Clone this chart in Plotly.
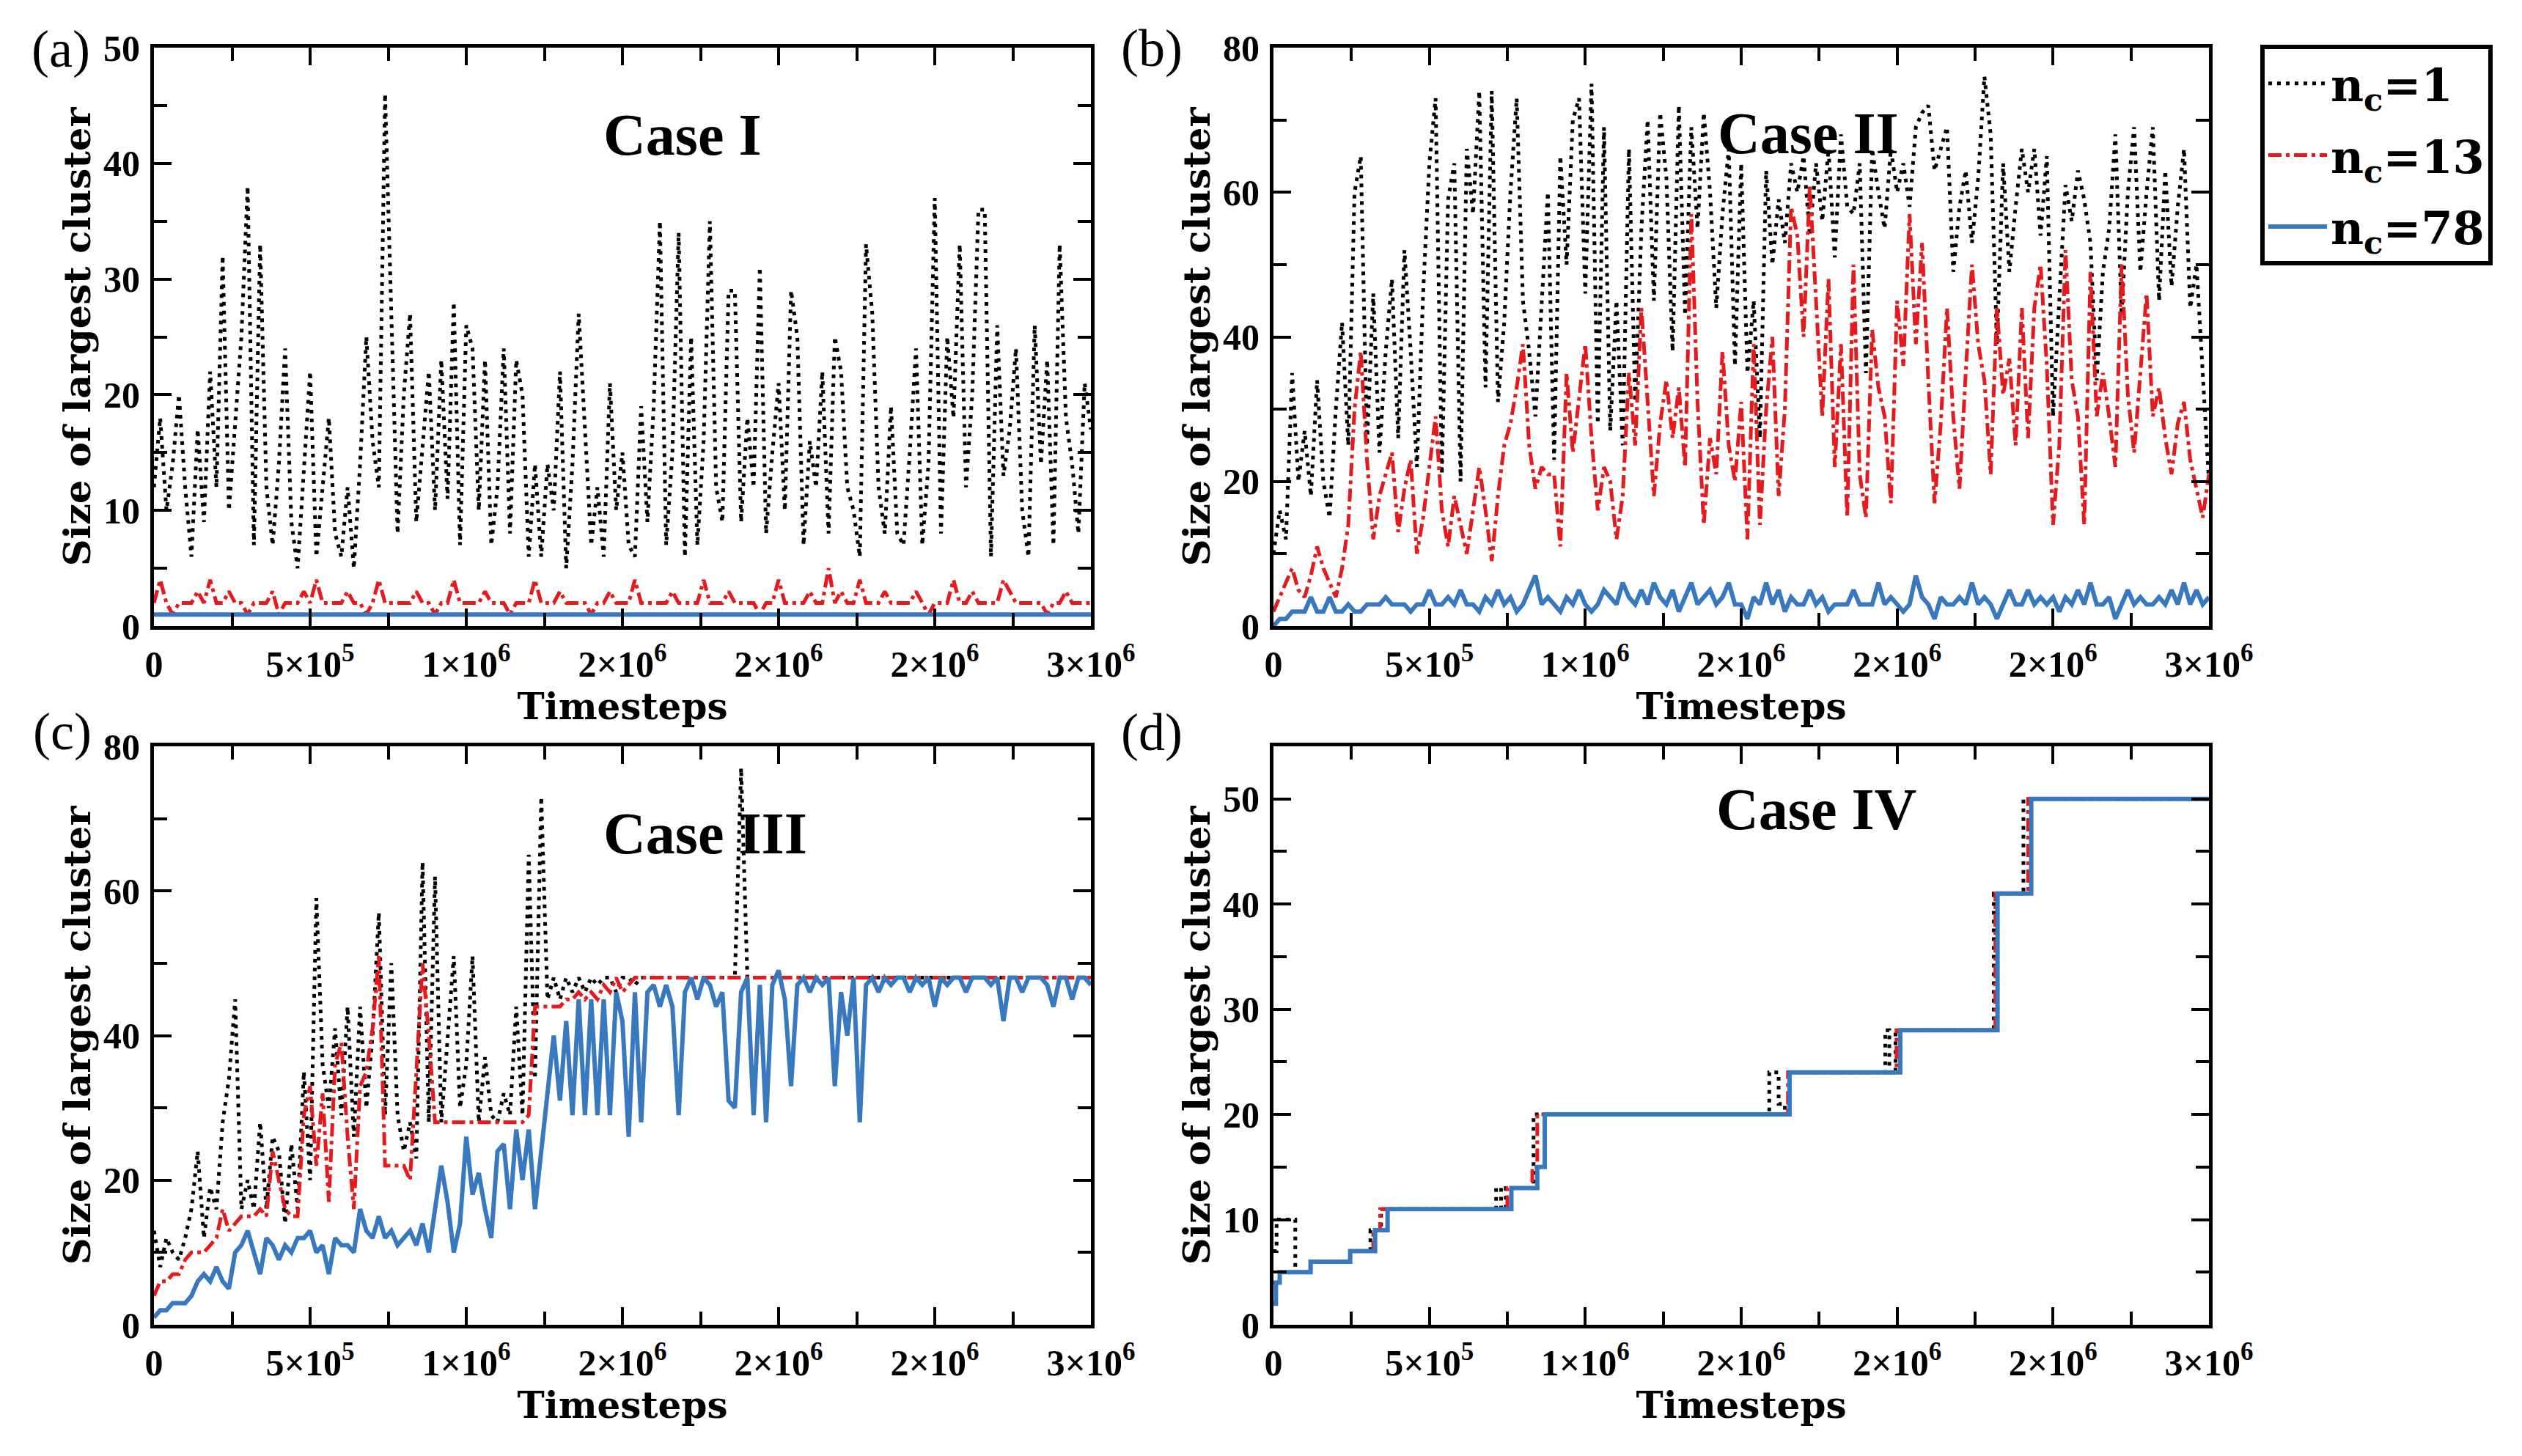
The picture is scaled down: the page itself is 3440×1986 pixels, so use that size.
import plotly.graph_objects as go

# ---------------- data ----------------
STEP = 20000  # sampling interval of the noisy series (timesteps)

# Panel (a) Case I
a_nc1 = [12,18,10,14,20,12,6,17,9,22,
         12,32,10,18,25,38,7,33,12,7,
         14,24,9,5,14,22,6,12,18,8,
         6,12,5,14,25,16,12,46,27,8,
         20,27,9,16,22,10,23,11,28,7,
         26,24,10,23,7,12,24,8,23,20,
         6,14,6,14,10,22,5,14,27,17,
         7,12,6,21,10,15,7,6,19,9,
         19,35,7,15,34,6,25,7,16,35,
         12,9,29,29,9,18,12,31,8,15,
         21,10,29,25,7,16,12,22,8,25,
         22,12,10,6,33,27,12,8,19,8,
         7,15,24,7,14,37,8,25,18,33,
         12,20,36,36,6,26,13,17,24,10,
         6,26,14,23,7,33,18,14,8,21,
         17]
a_nc13 = [2,4,2,1,2,2,2,3,2,4,
          2,2,3,2,2,1,2,2,2,3,
          1,2,2,2,3,2,4,2,2,2,
          2,3,2,2,1,2,4,2,2,2,
          2,2,3,2,2,1,2,2,4,2,
          2,2,2,3,2,2,2,1,2,2,
          2,4,2,2,2,3,2,2,2,2,
          1,2,2,3,2,2,2,4,2,2,
          2,2,2,3,2,2,2,2,4,2,
          2,2,3,2,2,2,2,1,2,2,
          4,2,2,2,2,3,2,2,5,2,
          3,2,2,4,2,2,2,3,2,2,
          2,2,3,2,1,2,2,2,4,2,
          2,3,2,2,2,2,4,3,2,2,
          2,2,2,1,2,2,3,2,2,2,
          2]
a_nc78_t = [0, 3000000]
a_nc78 = [1, 1]

# Panel (b) Case II
b_nc1 = [10,16,12,35,20,27,18,34,20,15,
         30,42,25,60,65,25,46,24,38,48,
         26,52,38,22,46,64,73,21,59,64,
         20,66,57,74,33,74,31,42,60,73,
         45,38,29,45,60,23,65,50,70,73,
         46,75,28,69,27,45,25,66,31,55,
         70,45,71,62,38,72,43,69,55,71,
         60,44,57,66,36,64,35,45,26,63,
         50,59,53,64,60,65,54,64,56,66,
         51,68,58,57,64,35,66,60,55,66,
         60,64,58,69,71,72,63,66,69,49,
         58,63,53,62,76,68,39,64,49,58,
         66,60,66,54,65,29,45,61,56,63,
         59,53,34,49,55,68,43,60,69,49,
         60,69,45,63,47,58,66,44,50,34,
         20]
b_nc13 = [2,4,6,8,5,4,7,11,8,6,
          4,8,14,30,38,23,12,18,21,24,
          13,19,23,10,15,22,29,16,11,18,
          14,10,16,22,16,9,18,25,28,33,
          39,25,19,22,21,21,11,35,24,32,
          39,26,16,22,20,12,18,35,25,44,
          31,18,28,34,26,33,22,57,31,14,
          26,21,38,25,20,31,12,39,14,30,
          40,18,30,58,54,40,61,44,29,48,
          22,39,15,50,21,15,41,33,29,17,
          45,36,57,39,53,34,17,28,44,29,
          19,35,50,39,34,21,44,32,37,25,
          44,26,44,50,36,14,25,52,34,29,
          14,49,29,35,29,22,50,32,24,35,
          46,29,33,26,21,28,31,23,19,15,
          21]
b_nc78 = [0,1,1,2,2,2,4,2,2,4,
          2,2,3,2,2,3,3,3,4,3,
          3,3,2,3,3,5,3,3,4,3,
          5,3,3,2,4,3,5,3,4,2,
          3,5,7,3,4,3,2,4,3,5,
          3,2,3,5,4,3,6,4,3,5,
          3,6,4,3,5,2,4,6,3,4,
          5,3,4,6,3,3,1,4,3,6,
          3,5,2,4,3,3,5,3,4,2,
          3,3,3,5,3,3,3,6,3,4,
          3,2,3,7,4,3,1,4,3,3,
          4,3,6,3,4,3,1,3,5,3,
          3,5,3,4,3,4,2,4,3,5,
          3,6,3,3,4,1,3,5,3,4,
          3,3,4,3,5,3,6,3,5,3,
          4]

# Panel (c) Case III
c_nc1 = [13,8,12,10,9,12,16,24,12,19,
         16,28,34,45,16,20,16,28,16,26,
         24,14,25,16,35,20,59,36,30,41,
         29,44,26,44,30,40,57,29,50,29,
         24,28,23,64,28,62,28,40,51,30,
         36,51,28,37,29,28,32,29,44,29,
         65,34,73,45,48,45,48,46,48,46,
         48,47,48,48,46,48,48,47,48,48,
         48,48,48,48,48,48,48,48,48,48,
         48,48,48,48,77,48,48,48,48,48,
         48,48,48,48,48,48,48,48,48,48,
         48,48,48,48,48,48,48,48,48,48,
         48,48,48,48,48,48,48,48,48,48,
         48,48,48,48,48,48,48,48,48,48,
         48,48,48,48,48,48,48,48,48,48,
         48]
c_nc13 = [4,6,6,7,7,9,10,10,10,11,
          12,16,13,14,15,15,15,16,15,24,
          20,16,15,15,29,33,22,32,17,36,
          39,26,16,33,35,41,51,22,22,22,
          22,20,35,50,40,28,28,28,28,28,
          28,28,28,28,28,28,28,28,28,28,
          29,44,44,44,44,44,45,45,46,45,
          46,45,47,46,48,46,47,48,48,48,
          48,48,48,48,48,48,48,48,48,48,
          48,48,48,48,48,48,48,48,48,48,
          48,48,48,48,48,48,48,48,48,48,
          48,48,48,48,48,48,48,48,48,48,
          48,48,48,48,48,48,48,48,48,48,
          48,48,48,48,48,48,48,48,48,48,
          48,48,48,48,48,48,48,48,48,48,
          48]
c_nc78 = [1,2,2,3,3,3,4,6,7,6,
          8,6,5,10,11,13,10,7,12,11,
          9,11,10,12,12,13,10,11,7,12,
          11,11,10,16,13,12,15,12,13,11,
          12,13,11,14,10,16,22,17,10,14,
          26,18,21,16,12,24,25,16,27,20,
          27,16,24,33,40,31,42,29,45,29,
          45,29,45,29,46,42,26,46,28,46,
          47,44,47,44,29,46,48,45,48,47,
          44,46,31,30,46,48,29,47,28,47,
          49,45,33,47,48,46,48,47,48,33,
          46,40,48,28,47,48,46,48,47,48,
          48,46,48,47,48,44,48,47,48,48,
          46,48,48,48,47,48,42,48,48,46,
          48,48,48,47,44,48,48,45,48,48,
          47]

# Panel (d) Case IV (step changes: timestep of change, new size)
d_nc1_t = [0, 10000, 20000, 70000, 119000, 246000, 311000, 345000, 714000, 730000,
           745000, 834000, 1590000, 1620000, 1640000, 1655000, 1962000, 1975000,
           1995000, 2310000, 2405000, 3000000]
d_nc1 = [7, 10, 10, 5, 6, 7, 9, 11, 13, 11, 13, 20, 24, 21, 20, 24, 28, 24, 28, 41, 50, 50]
d_nc13_t = [0, 20000, 119000, 246000, 320000, 342000, 750000, 830000, 846000,
            1650000, 1998000, 2315000, 2420000, 3000000]
d_nc13 = [4, 5, 6, 7, 9, 11, 13, 15, 20, 24, 28, 41, 50, 50]
d_nc78_t = [0, 8000, 20000, 119000, 246000, 326000, 366000, 763000, 846000, 870000,
            1655000, 2010000, 2322000, 2430000, 3000000]
d_nc78 = [2, 4, 5, 6, 7, 9, 11, 13, 15, 20, 24, 28, 41, 50, 50]

series_names = ["n<sub>c</sub>=1", "n<sub>c</sub>=13", "n<sub>c</sub>=78"]
case_labels = ["Case I", "Case II", "Case III", "Case IV"]
panel_labels = ["(a)", "(b)", "(c)", "(d)"]
x_tickvals = [0, 500000, 1000000, 1500000, 2000000, 2500000, 3000000]
x_ticktext = ["0", "5×10<sup>5</sup>", "1×10<sup>6</sup>", "2×10<sup>6</sup>",
              "2×10<sup>6</sup>", "2×10<sup>6</sup>", "3×10<sup>6</sup>"]
x_minorvals = [250000, 750000, 1250000, 1750000, 2250000, 2750000]


def grid(vals):
    return [i * STEP for i in range(len(vals))]


# ---------------- styling ----------------
W, H = 3440, 1986
BLACK = "black"
RED = "#e41a1c"
BLUE = "#3778bf"
styles = [
    dict(color=BLACK, width=5, dash="5px,7px"),
    dict(color=RED, width=5, dash="18px,6px,5px,6px"),
    dict(color=BLUE, width=6, dash="solid"),
]
groups = ["g1", "g13", "g78"]

panels = [
    dict(data=[(grid(a_nc1), a_nc1, "linear"), (grid(a_nc13), a_nc13, "linear"), (a_nc78_t, a_nc78, "linear")],
         xdom=[210 / W, 1488 / W], ydom=[1 - 854 / H, 1 - 65 / H], yrange=[0, 50], dtick=10, mdtick=5),
    dict(data=[(grid(b_nc1), b_nc1, "linear"), (grid(b_nc13), b_nc13, "linear"), (grid(b_nc78), b_nc78, "linear")],
         xdom=[1737 / W, 3013 / W], ydom=[1 - 854 / H, 1 - 65 / H], yrange=[0, 80], dtick=20, mdtick=10),
    dict(data=[(grid(c_nc1), c_nc1, "linear"), (grid(c_nc13), c_nc13, "linear"), (grid(c_nc78), c_nc78, "linear")],
         xdom=[210 / W, 1488 / W], ydom=[1 - 1807 / H, 1 - 1018 / H], yrange=[0, 80], dtick=20, mdtick=10),
    dict(data=[(d_nc1_t, d_nc1, "hv"), (d_nc13_t, d_nc13, "hv"), (d_nc78_t, d_nc78, "hv")],
         xdom=[1737 / W, 3013 / W], ydom=[1 - 1807 / H, 1 - 1018 / H], yrange=[0, 55], dtick=10, mdtick=5),
]

fig = go.Figure()
layout = dict(width=W, height=H, margin=dict(l=0, r=0, t=0, b=0, autoexpand=False),
              paper_bgcolor="white", plot_bgcolor="white", showlegend=True)

tickfont = dict(family="Liberation Serif", size=50, color="black", weight="bold")
titlefont_x = dict(family="DejaVu Serif", size=50, color="black", weight="bold")
titlefont_y = dict(family="DejaVu Serif", size=51, color="black", weight="bold")

for i, p in enumerate(panels):
    n = i + 1
    xa = "x" if n == 1 else f"x{n}"
    ya = "y" if n == 1 else f"y{n}"
    for j, (t, v, shape) in enumerate(p["data"]):
        fig.add_trace(go.Scatter(
            x=t, y=v, mode="lines", line=dict(shape=shape, **styles[j]),
            name=series_names[j], legendgroup=groups[j], showlegend=(i == 0),
            xaxis=xa, yaxis=ya, hoverinfo="skip"))
    common = dict(showline=True, linecolor="black", linewidth=5, mirror="allticks",
                  ticks="inside", ticklen=24, tickwidth=4, tickcolor="black", automargin=False,
                  showgrid=False, zeroline=False, tickfont=tickfont, ticklabelstandoff=4)
    layout["xaxis" if n == 1 else f"xaxis{n}"] = dict(
        common, domain=p["xdom"], anchor=ya, range=[0, 3000000], fixedrange=True,
        tickmode="array", tickvals=x_tickvals, ticktext=x_ticktext,
        minor=dict(tickmode="array", tickvals=x_minorvals, ticks="inside", ticklen=18,
                   tickwidth=4, tickcolor="black", showgrid=False),
        title=dict(text="Timesteps", font=titlefont_x, standoff=0))
    layout["yaxis" if n == 1 else f"yaxis{n}"] = dict(
        common, domain=p["ydom"], anchor=xa, range=p["yrange"], fixedrange=True,
        tickmode="linear", tick0=0, dtick=p["dtick"],
        minor=dict(dtick=p["mdtick"], ticks="inside", ticklen=18, tickwidth=4,
                   tickcolor="black", showgrid=False),
        title=dict(text="Size of largest cluster", font=titlefont_y, standoff=3))

annotations = []
case_pos = [(931, 184), (2466, 182), (962, 1137), (2477, 1104)]
for k, (cx, cy) in enumerate(case_pos):
    annotations.append(dict(text=case_labels[k], x=cx / W, y=1 - cy / H, xref="paper", yref="paper",
                            xanchor="center", yanchor="middle", showarrow=False,
                            font=dict(family="Liberation Serif", size=80, color="black", weight="bold")))
lab_pos = [(83, 67), (1571, 66), (85, 998), (1571, 999)]
for k, (lx, ly) in enumerate(lab_pos):
    annotations.append(dict(text=panel_labels[k], x=lx / W, y=1 - ly / H, xref="paper", yref="paper",
                            xanchor="center", yanchor="middle", showarrow=False,
                            font=dict(family="Liberation Serif", size=72, color="black")))
layout["annotations"] = annotations

layout["legend"] = dict(x=3083 / W, y=1 - 61 / H, xanchor="left", yanchor="top",
                        bordercolor="black", borderwidth=6, bgcolor="white",
                        font=dict(family="DejaVu Serif", size=62, color="black", weight="bold"),
                        itemwidth=80, traceorder="grouped", tracegroupgap=14,
                        entrywidth=250)

fig.update_layout(**layout)
fig.write_html("out.html")
